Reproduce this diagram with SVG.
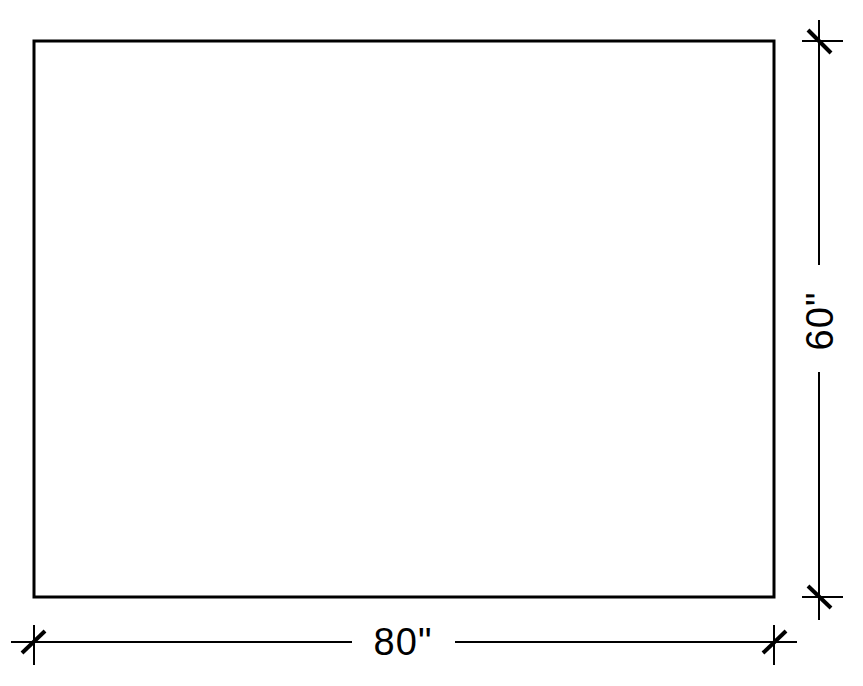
<svg xmlns="http://www.w3.org/2000/svg" width="863" height="686" viewBox="0 0 863 686">
<style>
.dim{stroke:#000;stroke-width:2;fill:none}
.tick{stroke:#000;stroke-width:4;fill:none}
.lbl{font-family:"Liberation Sans",Arial,sans-serif;font-size:38px;fill:#000;text-anchor:middle}
</style>
<rect width="863" height="686" fill="#fff"/>
<g id="panel">
<rect x="34" y="41" width="740" height="556" fill="none" stroke="#000" stroke-width="3"/>
</g>
<g id="connectors">
<line class="dim" x1="11" y1="642" x2="352" y2="642"/>
<line class="dim" x1="455" y1="642" x2="797" y2="642"/>
<line class="dim" x1="34" y1="625" x2="34" y2="665"/>
<line class="dim" x1="774" y1="625" x2="774" y2="665"/>
<line class="tick" x1="22" y1="653" x2="45" y2="631"/>
<line class="tick" x1="763" y1="653" x2="786" y2="631"/>
<line class="dim" x1="819" y1="20" x2="819" y2="265"/>
<line class="dim" x1="819" y1="372" x2="819" y2="620"/>
<line class="dim" x1="802" y1="41" x2="843" y2="41"/>
<line class="dim" x1="802" y1="597" x2="843" y2="597"/>
<line class="tick" x1="808" y1="30" x2="831" y2="53"/>
<line class="tick" x1="808" y1="586" x2="831" y2="608"/>
</g>
<g id="labels">
<text class="lbl" x="403" y="655" letter-spacing="1">80"</text>
<text class="lbl" transform="translate(833,321) rotate(-90)" letter-spacing="1">60"</text>
</g>
</svg>
